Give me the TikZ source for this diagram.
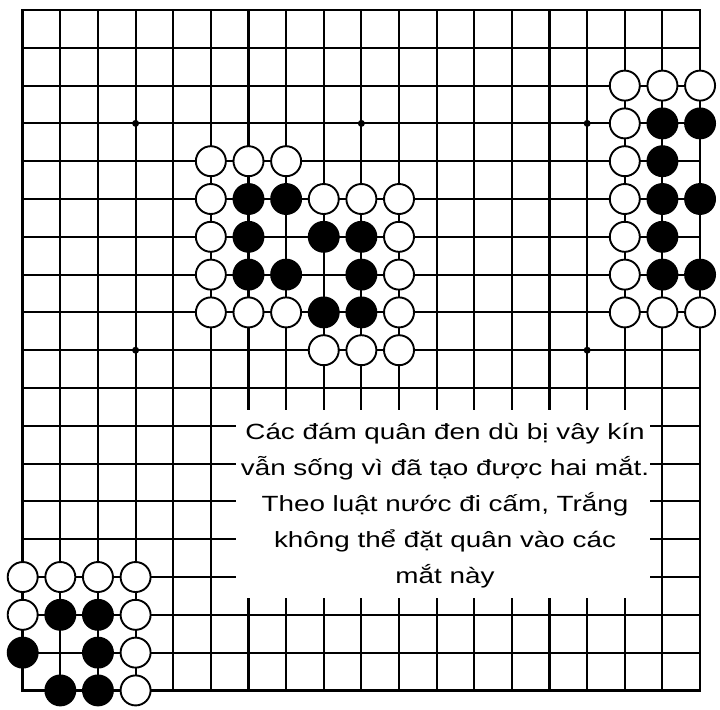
\documentclass[tikz,border=0pt]{standalone}
\usepackage{fontspec}
\newfontfamily\capfont[FakeStretch=1.265]{Liberation Sans}
\begin{document}
\begin{tikzpicture}[x=37.63pt,y=-37.8pt,
  gridline/.style={line width=2.1pt,black},
  border/.style={line width=2.4pt,black},
  wst/.style={circle,draw=black,fill=white,line width=1.9pt,minimum size=30pt,inner sep=0pt},
  bst/.style={circle,draw=black,fill=black,line width=1.9pt,minimum size=30pt,inner sep=0pt},
  star/.style={circle,fill=black,minimum size=7pt,inner sep=0pt},
  capt/.style={align=center,inner sep=0pt,anchor=north,font={\capfont\fontsize{22pt}{36pt}\selectfont}}]
\useasboundingbox (-0.6032,-0.2646) rectangle (18.530,18.492);
% board grid
\foreach \i in {0,...,18}{
  \draw[gridline] (\i,0) -- (\i,18);
  \draw[gridline] (0,\i) -- (18,\i);
}
\draw[border] (0,0) rectangle (18,18);
% star points
\foreach \c/\r in {3/3,9/3,15/3,3/9,9/9,15/9,3/15,9/15,15/15}
  \node[star] (p\c-\r) at (\c,\r) {};
% caption panel
\fill[white] (5.668,10.58) rectangle (16.67,15.556);
\node[capt] (caption) at (11.222,10.696) {\rule{0pt}{25pt}Các đám quân đen dù bị vây kín\\vẫn sống vì đã tạo được hai mắt.\\Theo luật nước đi cấm, Trắng\\không thể đặt quân vào các\\mắt này};
% white stones
\foreach \c/\r in {5/4,6/4,7/4,5/5,8/5,9/5,10/5,5/6,10/6,5/7,10/7,5/8,6/8,7/8,10/8,8/9,9/9,10/9,
  16/2,17/2,18/2,16/3,16/4,16/5,16/6,16/7,16/8,17/8,18/8,
  0/15,1/15,2/15,3/15,0/16,3/16,3/17,3/18}
  \node[wst] (w\c-\r) at (\c,\r) {};
% black stones
\foreach \c/\r in {6/5,7/5,6/6,8/6,9/6,6/7,7/7,9/7,8/8,9/8,
  17/3,18/3,17/4,17/5,18/5,17/6,17/7,18/7,
  1/16,2/16,0/17,2/17,1/18,2/18}
  \node[bst] (b\c-\r) at (\c,\r) {};
\end{tikzpicture}
\end{document}
